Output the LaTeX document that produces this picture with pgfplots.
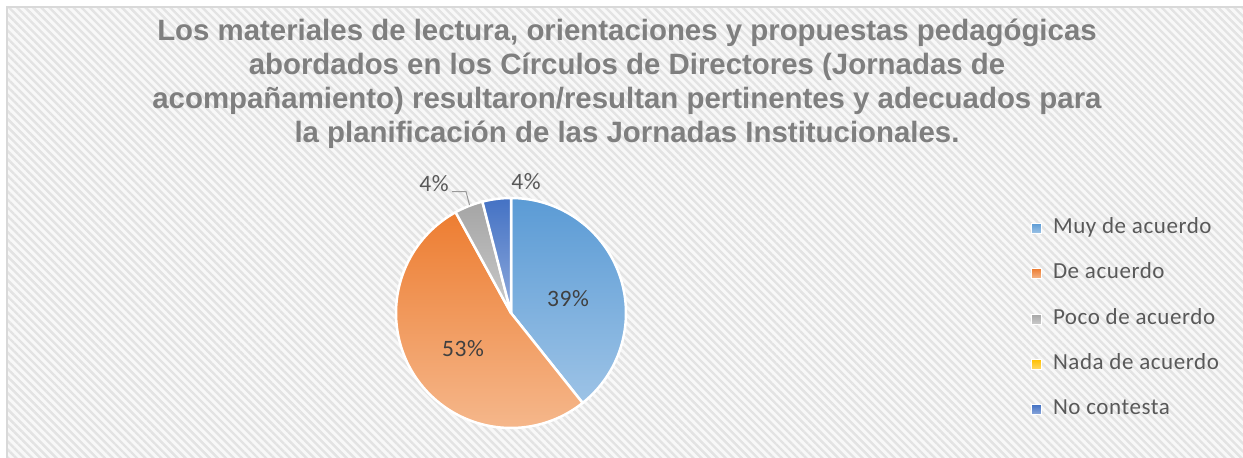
\documentclass[border=0pt]{standalone}
\usepackage{pgfplots}
\pgfplotsset{compat=1.18}
\usepackage{pgfplotstable}
\usetikzlibrary{patterns.meta}
\usepackage{fontspec}
\setmainfont{Carlito}
\newfontfamily\titlefont{Liberation Sans}
\newfontfamily\legfont[LetterSpace=2.5]{Carlito}

\definecolor{titlegray}{HTML}{7F7F7F}
\definecolor{labgray}{HTML}{404040}
\definecolor{leggray}{HTML}{595959}
\definecolor{frame}{HTML}{D9D9D9}
\definecolor{stripe}{HTML}{E3E3E3}
\definecolor{bgc}{HTML}{F8F8F8}
\definecolor{blueA}{HTML}{5B9BD5}\definecolor{blueB}{HTML}{9DC3E6}
\definecolor{orA}{HTML}{ED7D31}\definecolor{orB}{HTML}{F5B78B}
\definecolor{grA}{HTML}{A5A5A5}\definecolor{grB}{HTML}{CACACA}
\definecolor{yeA}{HTML}{FFC000}\definecolor{yeB}{HTML}{FFD966}
\definecolor{dbA}{HTML}{4472C4}\definecolor{dbB}{HTML}{8FAADC}

\pgfplotstableread{
category value
MuyDeAcuerdo 39.3
DeAcuerdo 52.7
PocoDeAcuerdo 4.0
NadaDeAcuerdo 0
NoContesta 4.0
}\piedata

\begin{document}
\begin{tikzpicture}
\pgfplotstablegetelem{0}{value}\of\piedata \let\vA\pgfplotsretval
\pgfplotstablegetelem{1}{value}\of\piedata \let\vB\pgfplotsretval
\pgfplotstablegetelem{2}{value}\of\piedata \let\vC\pgfplotsretval
\pgfplotstablegetelem{3}{value}\of\piedata \let\vD\pgfplotsretval
\pgfplotstablegetelem{4}{value}\of\piedata \let\vE\pgfplotsretval
\pgfmathsetmacro\aA{3.6*\vA}
\pgfmathsetmacro\aB{\aA+3.6*\vB}
\pgfmathsetmacro\aC{\aB+3.6*\vC}
\pgfmathsetmacro\aD{\aC+3.6*\vD}
\pgfmathsetmacro\aE{\aD+3.6*\vE}
\useasboundingbox (0,0) rectangle (1243pt,458pt);
\fill[white] (0,0) rectangle (1243pt,458pt);
\fill[bgc] (7pt,-5pt) rectangle (1250pt,451pt);
\fill[pattern={Lines[angle=-45,distance=5.7pt,line width=2.4pt]},pattern color=stripe] (7pt,-5pt) rectangle (1250pt,451pt);
\draw[frame,line width=1.5pt] (7pt,-5pt) rectangle (1250pt,451pt);
\begin{axis}[
  scale only axis, width=1243pt, height=458pt,
  xmin=0, xmax=1243, ymin=0, ymax=458, y dir=reverse,
  hide axis, clip=false,
  legend cell align=left,
  legend image code/.code={\path[#1, draw=white, line width=0.8pt] (0pt,-5pt) rectangle (10pt,5pt);},
  legend style={at={(axis cs:1031,217)}, anchor=north west, draw=none, fill=none,
    inner sep=0pt, row sep=23.4pt, column sep=0pt,
    font=\legfont\fontsize{23}{27}\selectfont, text=leggray,
    nodes={inner sep=0pt, inner xsep=11pt, text height=16pt, text depth=6pt}},
]
\addplot[forget plot, draw=white, line width=2.5pt, line join=round, top color=blueA, bottom color=blueB, domain=0:\aA, samples=80]
  ({511+115*sin(x)},{313-115*cos(x)}) -- (axis cs:511,313) -- cycle;
\addplot[forget plot, draw=white, line width=2.5pt, line join=round, top color=orA, bottom color=orB, domain=\aA:\aB, samples=100]
  ({511+115*sin(x)},{313-115*cos(x)}) -- (axis cs:511,313) -- cycle;
\addplot[forget plot, draw=white, line width=2.5pt, line join=round, top color=grA, bottom color=grB, domain=\aB:\aC, samples=20]
  ({511+115*sin(x)},{313-115*cos(x)}) -- (axis cs:511,313) -- cycle;
\addplot[forget plot, draw=white, line width=2.5pt, line join=round, top color=dbA, bottom color=dbB, domain=\aD:\aE, samples=20]
  ({511+115*sin(x)},{313-115*cos(x)}) -- (axis cs:511,313) -- cycle;

\addlegendimage{top color=blueA, bottom color=blueB}
\addlegendentry{Muy de acuerdo}
\addlegendimage{top color=orA, bottom color=orB}
\addlegendentry{De acuerdo}
\addlegendimage{top color=grA, bottom color=grB}
\addlegendentry{Poco de acuerdo}
\addlegendimage{top color=yeA, bottom color=yeB}
\addlegendentry{Nada de acuerdo}
\addlegendimage{top color=dbA, bottom color=dbB}
\addlegendentry{No contesta}

\node[font=\legfont\fontsize{23.5}{28}\selectfont, text=labgray] at (axis cs:568,299) {39\%};
\node[font=\legfont\fontsize{23.5}{28}\selectfont, text=labgray] at (axis cs:463,349) {53\%};
\node[font=\legfont\fontsize{23.5}{28}\selectfont, text=leggray] at (axis cs:434,184) {4\%};
\node[font=\legfont\fontsize{23.5}{28}\selectfont, text=leggray] at (axis cs:526,182) {4\%};
\draw[gray!80, line width=1pt] (axis cs:452,191.5) -- (axis cs:466,191.5) -- (axis cs:469.5,205);

\node[font=\titlefont\bfseries\fontsize{29.4}{34}\selectfont, text=titlegray, align=center, anchor=north, inner sep=0pt]
  at (axis cs:627,18.5) {Los materiales de lectura, orientaciones y propuestas pedagógicas\\abordados en los Círculos de Directores (Jornadas de\\acompañamiento) resultaron/resultan pertinentes y adecuados para\\la planificación de las Jornadas Institucionales.};
\end{axis}
\end{tikzpicture}
\end{document}
